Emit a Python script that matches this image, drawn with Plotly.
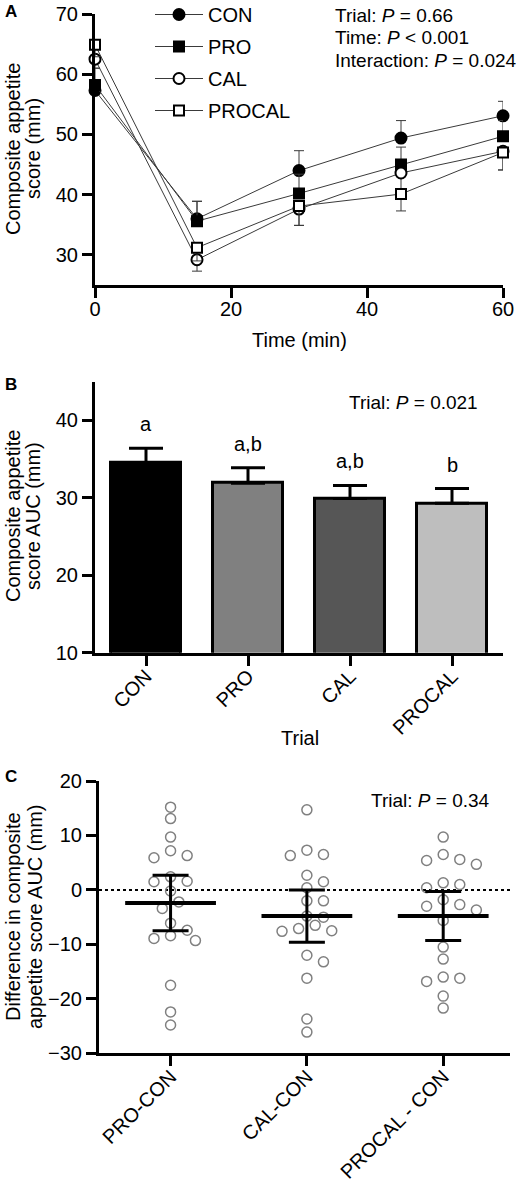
import plotly.graph_objects as go

W, H = 520, 1186
FONT = "Liberation Sans, Arial, Helvetica, sans-serif"

# ---------------- panel A : appetite over time ----------------
time_min = [0, 15, 30, 45, 60]
series_names = ["CON", "PRO", "CAL", "PROCAL"]
con_mean = [57.3, 36.0, 44.0, 49.4, 53.1]
pro_mean = [58.2, 35.6, 40.2, 45.0, 49.7]
cal_mean = [62.5, 29.2, 37.6, 43.6, 47.2]
procal_mean = [64.9, 31.2, 38.1, 40.1, 47.0]
con_err = [1.8, 2.9, 3.3, 2.9, 2.4]
pro_err = [2.8, 3.3, 3.2, 2.9, 2.6]
cal_err = [1.5, 1.9, 2.7, 3.0, 3.1]
procal_err = [2.0, 2.2, 3.2, 2.8, 2.9]

# ---------------- panel B : AUC per trial ----------------
trials = ["CON", "PRO", "CAL", "PROCAL"]
auc_mean = [34.5, 31.9, 29.9, 29.3]
auc_err = [1.9, 2.0, 1.7, 1.9]
auc_letters = ["a", "a,b", "a,b", "b"]

# ---------------- panel C : differences vs CON ----------------
diff_labels = ["PRO-CON", "CAL-CON", "PROCAL - CON"]
pro_con = [15.2, 13.1, 9.7, 7.2, 5.9, 6.3, 1.6, 1.5, 2.4, -0.2,
           -2.2, -3.4, -6.1, -7.4, -8.4, -9.3, -8.9, -17.5, -22.4, -24.8]
cal_con = [14.7, 7.3, 6.3, 6.5, 2.7, 1.5, 0.4, -2.0, -2.0, -4.8,
           -5.0, -6.5, -7.6, -7.5, -7.1, -12.0, -13.2, -16.2, -23.7, -26.1]
procal_con = [9.7, 5.6, 4.7, 5.4, 6.5, 1.0, 1.3, 0.4, -1.8, -2.7,
              -3.7, -3.0, -5.6, -10.5, -12.7, -16.2, -16.8, -16.0, -19.5, -21.7]
diff_mean = [-2.4, -4.8, -4.8]
diff_ci = [5.1, 4.8, 4.5]


def fx(px):
    return px / W


def fy(py):
    return 1 - py / H


def swarm(vals, px_per_y, px_per_x, d=11.0, step=8.3):
    # simple greedy beeswarm, returns x offsets in axis units
    order = sorted(range(len(vals)), key=lambda i: -vals[i])
    cands = [0.0]
    for k in range(1, 8):
        cands += [k * step, -k * step]
    placed = []
    offs = [0.0] * len(vals)
    for i in order:
        y = vals[i] * px_per_y
        for c in cands:
            if all((c - px) ** 2 + (y - py) ** 2 >= d * d for px, py in placed):
                placed.append((c, y))
                offs[i] = c / px_per_x
                break
    return offs


fig = go.Figure()

# panel A traces
styles = [
    ("circle", "black", True),
    ("square", "black", True),
    ("circle", "white", False),
    ("square", "white", False),
]
means = [con_mean, pro_mean, cal_mean, procal_mean]
errs = [con_err, pro_err, cal_err, procal_err]
for name, m, e, (sym, fill, up) in zip(series_names, means, errs, styles):
    zeros = [0] * len(e)
    fig.add_trace(go.Scatter(
        x=time_min, y=m, name=name, legendgroup=name, mode="lines+markers",
        line=dict(color="#3a3a3a", width=1),
        marker=dict(symbol=sym, size=11 if sym == "circle" else 10, color=fill,
                    line=dict(color="black", width=2)),
        error_y=dict(type="data", symmetric=False,
                     array=e if up else zeros, arrayminus=zeros if up else e,
                     color="#3a3a3a", thickness=1, width=5),
        cliponaxis=False, xaxis="x", yaxis="y",
    ))

# panel B bars
fig.add_trace(go.Bar(
    x=trials, y=auc_mean, width=0.68, showlegend=False,
    marker=dict(color=["#000000", "#808080", "#565656", "#bebebe"],
                line=dict(color="black", width=3)),
    error_y=dict(type="data", symmetric=False, array=auc_err,
                 arrayminus=[0] * len(auc_err), color="black",
                 thickness=3, width=17),
    xaxis="x2", yaxis="y2",
))

# panel C points
for i, vals in enumerate([pro_con, cal_con, procal_con]):
    offs = swarm(vals, 5.45, 136.5)
    fig.add_trace(go.Scatter(
        x=[i + o for o in offs], y=vals, mode="markers", showlegend=False,
        marker=dict(symbol="circle-open", size=10, color="#808080",
                    line=dict(width=1.5)),
        cliponaxis=False, xaxis="x3", yaxis="y3",
    ))

fig.add_trace(go.Scatter(
    x=list(range(len(diff_mean))), y=diff_mean, mode="markers", showlegend=False,
    marker=dict(size=2, color="rgba(0,0,0,0)"),
    error_x=dict(type="constant", value=0.333, width=0, thickness=4, color="black"),
    error_y=dict(type="data", array=diff_ci, width=18, thickness=3, color="black"),
    cliponaxis=False, xaxis="x3", yaxis="y3",
))

axis_style = dict(showline=True, linecolor="black", linewidth=3, ticks="outside",
                  ticklen=10, tickwidth=3, tickcolor="black", showgrid=False,
                  zeroline=False, automargin=False,
                  tickfont=dict(size=20, color="black"))

fig.update_layout(
    width=W, height=H, margin=dict(l=0, r=0, t=0, b=0, autoexpand=False),
    paper_bgcolor="white", plot_bgcolor="white",
    font=dict(family=FONT, color="black"),
    xaxis=dict(axis_style, domain=[fx(95), fx(503)], range=[0, 60],
               tickvals=[0, 20, 40, 60], anchor="y", ticklabelstandoff=-6),
    yaxis=dict(axis_style, domain=[fy(285), fy(14)], range=[25, 70],
               tickvals=[30, 40, 50, 60, 70], anchor="x"),
    xaxis2=dict(axis_style, domain=[fx(95), fx(503)], range=[-0.5, 3.5],
                type="category", tickangle=-45, anchor="y2", ticklabelstandoff=-9),
    yaxis2=dict(axis_style, domain=[fy(652.7), fy(381.7)], range=[10, 45],
                tickvals=[10, 20, 30, 40], anchor="x2"),
    xaxis3=dict(axis_style, domain=[fx(99), fx(510)], range=[-0.525, 2.49],
                tickvals=[0, 1, 2], ticktext=diff_labels, tickangle=-45,
                anchor="y3", ticklabelstandoff=-9),
    yaxis3=dict(axis_style, domain=[fy(1053.3), fy(781)], range=[-30, 20],
                tickvals=[-30, -20, -10, 0, 10, 20], anchor="x3"),
    legend=dict(x=fx(150), y=fy(-5), xanchor="left", yanchor="top",
                font=dict(size=20), bgcolor="rgba(0,0,0,0)", itemwidth=48,
                tracegroupgap=3),
    bargap=0,
)

fig.add_shape(type="line", xref="x3 domain", yref="y3", x0=0, x1=1, y0=0, y1=0,
              line=dict(color="black", width=2, dash="dot"), layer="below")

ann = []


def text(px, py, s, size=20, xanchor="center", yanchor="middle", **kw):
    ann.append(dict(x=fx(px), y=fy(py), xref="paper", yref="paper", text=s,
                    xanchor=xanchor, yanchor=yanchor, showarrow=False,
                    font=dict(size=size, color="black"), **kw))


# panel letters
text(3, 0, "<b>A</b>", 17, xanchor="left", yanchor="top")
text(3, 385, "<b>B</b>", 17, xanchor="left")
text(3, 776, "<b>C</b>", 17, xanchor="left")

# axis titles
text(299, 340, "Time (min)", 20)
text(300, 738, "Trial", 20)
for cy, l1, l2, x2 in [(149, "Composite appetite", "score (mm)", 33),
                       (516, "Composite appetite", "score AUC (mm)", 33),
                       (917, "Difference in composite", "appetite score AUC (mm)", 35)]:
    text(13, cy, l1, 20, textangle=-90)
    text(x2, cy, l2, 20, textangle=-90)

# statistics
stats_a = ["Trial: <i>P</i> = 0.66", "Time: <i>P</i> &lt; 0.001",
           "Interaction: <i>P</i> = 0.024"]
for py, s in zip([15, 37, 60], stats_a):
    text(333, py, s, 19, xanchor="left")
text(413, 402, "Trial: <i>P</i> = 0.021", 19)
text(430, 800, "Trial: <i>P</i> = 0.34", 19)

for t, m, e, lab in zip(trials, auc_mean, auc_err, auc_letters):
    ann.append(dict(x=t, y=m + e, xref="x2", yref="y2", text=lab, showarrow=False,
                    yanchor="bottom", yshift=11, font=dict(size=20, color="black")))

fig.update_layout(annotations=ann)

# drop the default page margin so the figure sits at the window's corner
fig.write_html("out.html", config={"displayModeBar": False},
               post_script="document.body.style.margin='0';")
